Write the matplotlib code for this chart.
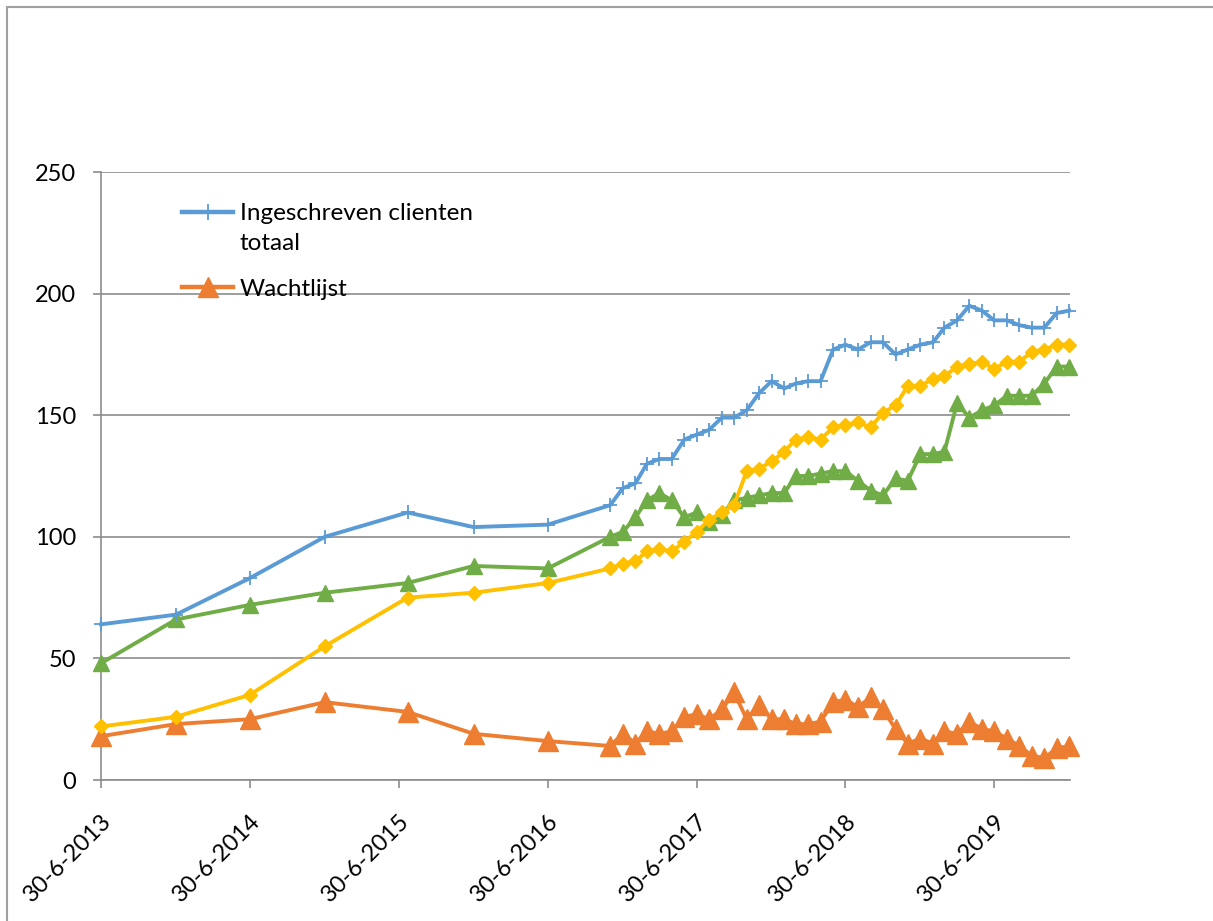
import pandas as pd
import matplotlib.pyplot as plt
from matplotlib.lines import Line2D
from matplotlib.patches import Rectangle

plt.rcParams['font.family'] = ['Lato', 'DejaVu Sans']

# dates of the measurements (half-yearly first, then monthly)
early_dates = ["2013-06-30", "2013-12-31", "2014-06-30", "2014-12-31",
               "2015-07-22", "2015-12-31", "2016-06-30"]
monthly_dates = ["2016-11-30", "2016-12-31",
                 "2017-01-31", "2017-02-28", "2017-03-31", "2017-04-30", "2017-05-31", "2017-06-30",
                 "2017-07-31", "2017-08-31", "2017-09-30", "2017-10-31", "2017-11-30", "2017-12-31",
                 "2018-01-31", "2018-02-28", "2018-03-31", "2018-04-30", "2018-05-31", "2018-06-30",
                 "2018-07-31", "2018-08-31", "2018-09-30", "2018-10-31", "2018-11-30", "2018-12-31",
                 "2019-01-31", "2019-02-28", "2019-03-31", "2019-04-30", "2019-05-31", "2019-06-30",
                 "2019-07-31", "2019-08-31", "2019-09-30", "2019-10-31", "2019-11-30", "2019-12-31"]
dates = pd.to_datetime(early_dates + monthly_dates)

ingeschreven = [64, 68, 83, 100, 110, 104, 105,
                113, 120, 122, 130, 132, 132, 140, 142, 144, 149,
                149, 152, 159, 164, 161, 163, 164, 164, 177, 179,
                177, 180, 180, 175, 177, 179, 180, 186, 189, 195,
                193, 189, 189, 187, 186, 186, 192, 193]
wachtlijst = [18, 23, 25, 32, 28, 19, 16,
              14, 19, 15, 20, 19, 20, 26, 27, 25, 29,
              36, 25, 31, 25, 25, 23, 23, 24, 32, 33,
              30, 34, 29, 21, 15, 17, 15, 20, 19, 24,
              21, 20, 17, 14, 10, 9, 13, 14]
serie_geel = [22, 26, 35, 55, 75, 77, 81,
              87, 89, 90, 94, 95, 94, 98, 102, 107, 110,
              113, 127, 128, 131, 135, 140, 141, 140, 145, 146,
              147, 145, 151, 154, 162, 162, 165, 166, 170, 171,
              172, 169, 172, 172, 176, 177, 179, 179]
serie_groen = [48, 66, 72, 77, 81, 88, 87,
               100, 102, 108, 115, 118, 115, 108, 110, 106, 109,
               115, 116, 117, 118, 118, 125, 125, 126, 127, 127,
               123, 119, 117, 124, 123, 134, 134, 135, 155, 149,
               152, 154, 158, 158, 158, 163, 170, 170]

tick_dates = pd.to_datetime(["2013-06-30", "2014-06-30", "2015-06-30", "2016-06-30",
                             "2017-06-30", "2018-06-30", "2019-06-30"])
tick_labels = ["30-6-2013", "30-6-2014", "30-6-2015", "30-6-2016",
               "30-6-2017", "30-6-2018", "30-6-2019"]
y_ticks = [0, 50, 100, 150, 200, 250]

blue = '#5B9BD5'
orange = '#ED7D31'
yellow = '#FFC000'
green = '#70AD47'
grid_grey = '#8C8C8C'

fig = plt.figure(figsize=(12.13, 9.21), dpi=100)
ax = fig.add_axes([101 / 1213, 1 - 780 / 921, (1070 - 101) / 1213, (780 - 172) / 921])

ax.plot(dates, serie_groen, color=green, lw=2.8, marker='^', ms=11, zorder=3, clip_on=False)
ax.plot(dates, serie_geel, color=yellow, lw=2.8, marker='D', ms=7.5, zorder=4, clip_on=False)
ax.plot(dates, wachtlijst, color=orange, lw=2.8, marker='^', ms=14, zorder=3, clip_on=False)
ax.plot(dates, ingeschreven, color=blue, lw=2.8, marker='+', ms=10.5, mew=1.3, zorder=5,
        clip_on=False)

ax.set_xlim(pd.Timestamp("2013-06-30"), pd.Timestamp("2020-01-02"))
ax.set_ylim(0, 250)
ax.set_yticks(y_ticks)
ax.set_xticks(tick_dates)
ax.set_xticklabels(tick_labels, rotation=45, ha='right', va='top', rotation_mode='anchor')
ax.tick_params(axis='both', labelsize=17, color=grid_grey, length=6, width=1.2)
ax.tick_params(axis='y', pad=12)
ax.tick_params(axis='x', pad=16)
ax.yaxis.grid(True, color=grid_grey, lw=1.2)
ax.set_axisbelow(True)
for side in ['top', 'right']:
    ax.spines[side].set_visible(False)
for side in ['left', 'bottom']:
    ax.spines[side].set_color(grid_grey)
    ax.spines[side].set_linewidth(1.2)

# legend, only the first two entries are visible in the original
handles = [Line2D([], [], color=blue, lw=3.2, marker='+', ms=12, mew=1.3),
           Line2D([], [], color=orange, lw=3.2, marker='^', ms=14)]
leg = ax.legend(handles, ["Ingeschreven clienten", "Wachtlijst"],
                loc='upper left', bbox_to_anchor=(0.074, 0.965), frameon=False,
                fontsize=17.5, handlelength=2.1, handletextpad=0.25, labelspacing=2.25,
                borderaxespad=0)
# wrapped second line of the first legend entry (drawn after the legend)
ax.annotate("totaal", xy=(0, 0), xycoords=leg.get_texts()[0],
            xytext=(0, -30), textcoords='offset pixels',
            ha='left', va='bottom', fontsize=17.5, zorder=10)

# chart border
fig.patches.append(Rectangle((7 / 1213, -0.1), 1.2, 1 - 7 / 921 + 0.1,
                             transform=fig.transFigure, fill=False,
                             edgecolor='#A0A0A0', lw=1.5))

fig.savefig('out.png', dpi=100)
